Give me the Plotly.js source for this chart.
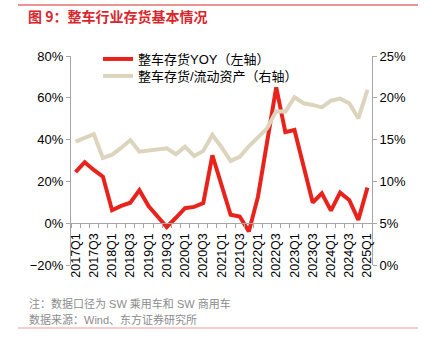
<!DOCTYPE html>
<html>
<head>
<meta charset="utf-8">
<script src="https://cdn.plot.ly/plotly-3.0.1.min.js"></script>
<style>html,body{margin:0;padding:0;background:#fff;}#chart{width:425px;height:338px;}</style>
</head>
<body>
<div id="chart"></div>
<script>
// Quarters (categories)
const quarters = [
  "2017Q1","2017Q2","2017Q3","2017Q4",
  "2018Q1","2018Q2","2018Q3","2018Q4",
  "2019Q1","2019Q2","2019Q3","2019Q4",
  "2020Q1","2020Q2","2020Q3","2020Q4",
  "2021Q1","2021Q2","2021Q3","2021Q4",
  "2022Q1","2022Q2","2022Q3","2022Q4",
  "2023Q1","2023Q2","2023Q3","2023Q4",
  "2024Q1","2024Q2","2024Q3","2024Q4",
  "2025Q1"
];
// 整车存货YOY (%, left axis)
const inventoryYoY = [
  24.4, 29.2, 25.5, 22.3,
  6.2, 8.3, 9.8, 15.8,
  8.2, 3.0, -1.8, 2.6,
  7.2, 7.8, 9.6, 32.5,
  17.8, 4.0, 3.2, -4.0,
  12.7, 39.8, 65.0, 43.6,
  44.6, 27.2, 9.9, 14.3,
  6.0, 14.6, 11.1, 1.6,
  17.0
];
// 整车存货/流动资产 (%, right axis)
const inventoryToCurrentAssets = [
  14.75, 15.15, 15.65, 12.8,
  13.2, 14.0, 14.95, 13.55,
  13.65, 13.85, 13.95, 13.25,
  14.15, 13.05, 13.65, 15.55,
  14.1, 12.45, 12.95, 14.2,
  15.3, 16.35, 18.4, 18.35,
  20.05, 19.35, 19.15, 18.85,
  19.65, 19.9, 19.35, 17.55,
  20.95
];
const seriesNames = ["整车存货YOY（左轴）", "整车存货/流动资产（右轴）"];
const titleText = "图 9：整车行业存货基本情况";
const noteText = "注：数据口径为 SW 乘用车和 SW 商用车";
const sourceText = "数据来源：Wind、东方证券研究所";

const xIdx = quarters.map((q, i) => i);
const labelIdx = xIdx.filter(i => /Q[13]$/.test(quarters[i]));
const labelText = labelIdx.map(i => quarters[i]);

const FONT = "Liberation Sans, Arial, Noto Sans CJK SC, sans-serif";
const AXIS_COLOR = "#a6a6a6";

const traces = [
  {
    x: xIdx, y: inventoryYoY, name: seriesNames[0],
    type: "scatter", mode: "lines",
    line: {color: "#e8231c", width: 4},
    xaxis: "x", yaxis: "y", legend: "legend"
  },
  {
    x: xIdx, y: inventoryToCurrentAssets, name: seriesNames[1],
    type: "scatter", mode: "lines",
    line: {color: "#ddd4be", width: 4},
    xaxis: "x", yaxis: "y2", legend: "legend2"
  }
];

const W = 425, H = 338;
const L = 71, R = 53, T = 56, B = 73;
const pw = W - L - R, ph = H - T - B;
const px = v => (v - L) / pw;
const py = v => (H - B - v) / ph;

const legendBase = {
  xanchor: "left", yanchor: "top",
  bgcolor: "rgba(0,0,0,0)", font: {size: 13, color: "#000"},
  itemwidth: 30
};

const layout = {
  width: W, height: H,
  margin: {l: L, r: R, t: T, b: B, pad: 0},
  paper_bgcolor: "#fff", plot_bgcolor: "#fff",
  font: {family: FONT, size: 13, color: "#000"},
  showlegend: true,
  legend: Object.assign({x: px(98), y: py(44)}, legendBase),
  legend2: Object.assign({x: px(98), y: py(61)}, legendBase),
  title: {
    text: titleText, xref: "container", yref: "container",
    x: 28 / W, xanchor: "left", y: 1 - 17 / H, yanchor: "middle",
    font: {size: 14, color: "#d9262c", family: "Noto Sans CJK SC, sans-serif", weight: "bold"}
  },
  xaxis: {
    type: "linear", range: [-0.5, quarters.length - 0.5],
    anchor: "free", position: 0.2,
    showline: true, linecolor: AXIS_COLOR, linewidth: 1,
    showgrid: false, zeroline: false,
    tickmode: "array", tickvals: labelIdx, ticktext: labelText,
    tickangle: -90, ticks: "", ticklen: 4, ticklabelstandoff: 4,
    tickfont: {size: 12.5, color: "#000"},
    minor: {tick0: -0.5, dtick: 1, ticks: "outside", ticklen: 4, tickcolor: AXIS_COLOR, showgrid: false}
  },
  yaxis: {
    range: [-20, 80], tick0: -20, dtick: 20, ticksuffix: "%",
    showline: true, linecolor: AXIS_COLOR, linewidth: 1,
    showgrid: false, zeroline: false,
    ticks: "outside", ticklen: 4, tickcolor: AXIS_COLOR,
    tickfont: {size: 13, color: "#000"}
  },
  yaxis2: {
    range: [0, 25], tick0: 0, dtick: 5, ticksuffix: "%",
    overlaying: "y", side: "right", anchor: "x",
    showline: true, linecolor: AXIS_COLOR, linewidth: 1,
    showgrid: false, zeroline: false,
    ticks: "outside", ticklen: 4, tickcolor: AXIS_COLOR,
    tickfont: {size: 13, color: "#000"}
  },
  shapes: [
    {type: "line", xref: "paper", yref: "paper", x0: px(18), x1: px(418), y0: py(5), y1: py(5),
     line: {color: "#d9262c", width: 1}},
    {type: "line", xref: "paper", yref: "paper", x0: px(18), x1: px(418), y0: py(328), y1: py(328),
     line: {color: "#eb9b9b", width: 1.2}}
  ],
  annotations: [
    {text: noteText, xref: "paper", yref: "paper", x: px(27), y: py(303),
     xanchor: "left", yanchor: "middle", showarrow: false,
     font: {size: 11, color: "#8c8c8c", family: FONT}},
    {text: sourceText, xref: "paper", yref: "paper", x: px(27), y: py(319),
     xanchor: "left", yanchor: "middle", showarrow: false,
     font: {size: 11, color: "#8c8c8c", family: FONT}}
  ]
};

Plotly.newPlot("chart", traces, layout, {displayModeBar: false, staticPlot: true});
</script>
</body>
</html>
